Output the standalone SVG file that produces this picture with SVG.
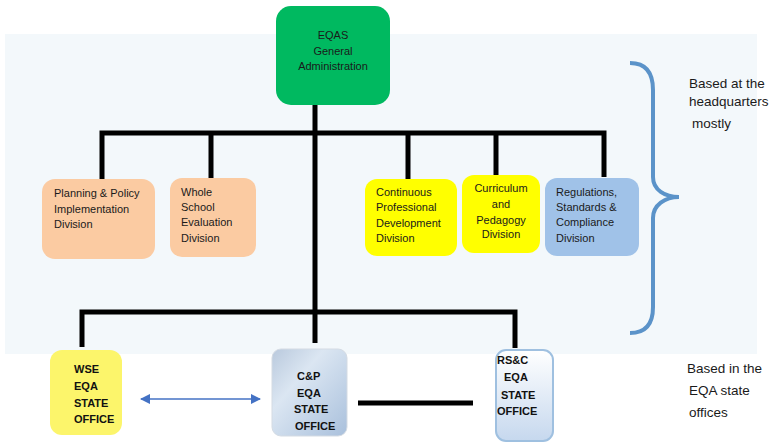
<svg xmlns="http://www.w3.org/2000/svg" width="776" height="443" viewBox="0 0 776 443">
<style>
  .t{font-family:"Liberation Sans",Arial,sans-serif;font-size:11px;fill:#1a1a1a}
  .b{font-family:"Liberation Sans",Arial,sans-serif;font-size:11px;font-weight:bold;fill:#111}
  .r{font-family:"Liberation Sans",Arial,sans-serif;font-size:13.5px;fill:#1a1a1a}
  .ln{fill:none;stroke:#000;stroke-width:5}
</style>
<defs>
  <linearGradient id="gcp" x1="0" y1="0" x2="1" y2="1">
    <stop offset="0" stop-color="#b9c9dd"/>
    <stop offset="0.35" stop-color="#dbe6f2"/>
    <stop offset="1" stop-color="#a9c0dc"/>
  </linearGradient>
  <linearGradient id="grs" x1="0" y1="0" x2="0" y2="1">
    <stop offset="0" stop-color="#ffffff"/>
    <stop offset="1" stop-color="#c6d8ee"/>
  </linearGradient>
  <marker id="ah" viewBox="0 0 10 10" refX="9" refY="5" markerWidth="7" markerHeight="7" orient="auto-start-reverse">
    <path d="M0,0 L10,5 L0,10 z" fill="#4472c4"/>
  </marker>
</defs>
<rect x="5" y="34" width="752" height="320" fill="#f3f8fb"/>

<g id="connectors">
  <line class="ln" x1="315" y1="103" x2="315" y2="343"/>
  <polyline class="ln" points="102,180 102,133 604,133 604,177"/>
  <line class="ln" x1="211" y1="133" x2="211" y2="180"/>
  <line class="ln" x1="408" y1="133" x2="408" y2="180"/>
  <line class="ln" x1="496" y1="133" x2="496" y2="175"/>
  <polyline class="ln" points="82,347 82,312 515,312 515,348"/>
  <line class="ln" x1="358" y1="403" x2="473" y2="403"/>
  <line x1="141" y1="399" x2="260" y2="399" stroke="#4472c4" stroke-width="1.5" marker-start="url(#ah)" marker-end="url(#ah)"/>
</g>

<g id="brace">
  <path d="M630,63 C645,63 653,72 653,90 L653,177 C653,190 665,197 679,197 C665,197 653,205 653,218 L653,307 C653,325 645,333 630,333" fill="none" stroke="#5b93c9" stroke-width="4"/>
</g>

<g id="n-top">
  <rect x="276" y="6" width="114" height="99" rx="15" fill="#00b960"/>
  <text class="t" x="333" y="39" text-anchor="middle">EQAS</text>
  <text class="t" x="333" y="55" text-anchor="middle">General</text>
  <text class="t" x="333" y="70" text-anchor="middle">Administration</text>
</g>

<g id="n-planning">
  <rect x="42" y="179" width="113" height="80" rx="13" fill="#fbcba2"/>
  <text class="t" x="54" y="197">Planning &amp; Policy</text>
  <text class="t" x="54" y="213">Implementation</text>
  <text class="t" x="54" y="228">Division</text>
</g>

<g id="n-wse">
  <rect x="170" y="178" width="86" height="79" rx="12" fill="#fbcba2"/>
  <text class="t" x="181" y="196">Whole</text>
  <text class="t" x="181" y="211">School</text>
  <text class="t" x="181" y="226">Evaluation</text>
  <text class="t" x="181" y="242">Division</text>
</g>

<g id="n-cpd">
  <rect x="365" y="179" width="92" height="77" rx="12" fill="#ffff00"/>
  <text class="t" x="376" y="196">Continuous</text>
  <text class="t" x="376" y="211">Professional</text>
  <text class="t" x="376" y="227">Development</text>
  <text class="t" x="376" y="242">Division</text>
</g>

<g id="n-cp">
  <rect x="462" y="175" width="78" height="78" rx="12" fill="#ffff00"/>
  <text class="t" x="501" y="192" text-anchor="middle">Curriculum</text>
  <text class="t" x="501" y="208" text-anchor="middle">and</text>
  <text class="t" x="501" y="224" text-anchor="middle">Pedagogy</text>
  <text class="t" x="501" y="238" text-anchor="middle">Division</text>
</g>

<g id="n-rsc">
  <rect x="545" y="178" width="94" height="78" rx="12" fill="#a0c2e8"/>
  <text class="t" x="556" y="196">Regulations,</text>
  <text class="t" x="556" y="211">Standards &amp;</text>
  <text class="t" x="556" y="226">Compliance</text>
  <text class="t" x="556" y="242">Division</text>
</g>

<g id="n-wse-office">
  <rect x="50" y="350" width="72" height="85" rx="12" fill="#fcf56b"/>
  <text class="b" x="74" y="373">WSE</text>
  <text class="b" x="74" y="390">EQA</text>
  <text class="b" x="74" y="407">STATE</text>
  <text class="b" x="74" y="423">OFFICE</text>
</g>

<g id="n-cp-office">
  <rect x="272" y="349" width="75" height="87" rx="9" fill="url(#gcp)" stroke="#d4dbe3" stroke-width="1"/>
  <text class="b" x="297" y="380">C&amp;P</text>
  <text class="b" x="297" y="397">EQA</text>
  <text class="b" x="294" y="413">STATE</text>
  <text class="b" x="295" y="430">OFFICE</text>
</g>

<g id="n-rsc-office">
  <rect x="496" y="350" width="57" height="91" rx="10" fill="url(#grs)" stroke="#9fc0e0" stroke-width="2"/>
  <text class="b" x="497" y="364">RS&amp;C</text>
  <text class="b" x="504" y="381">EQA</text>
  <text class="b" x="501" y="399">STATE</text>
  <text class="b" x="497" y="415">OFFICE</text>
</g>

<g id="labels">
  <text class="r" x="689" y="88">Based at the</text>
  <text class="r" x="689" y="106">headquarters</text>
  <text class="r" x="692" y="128">mostly</text>
  <text class="r" x="687" y="373">Based in the</text>
  <text class="r" x="689" y="395">EQA state</text>
  <text class="r" x="689" y="417">offices</text>
</g>
</svg>
